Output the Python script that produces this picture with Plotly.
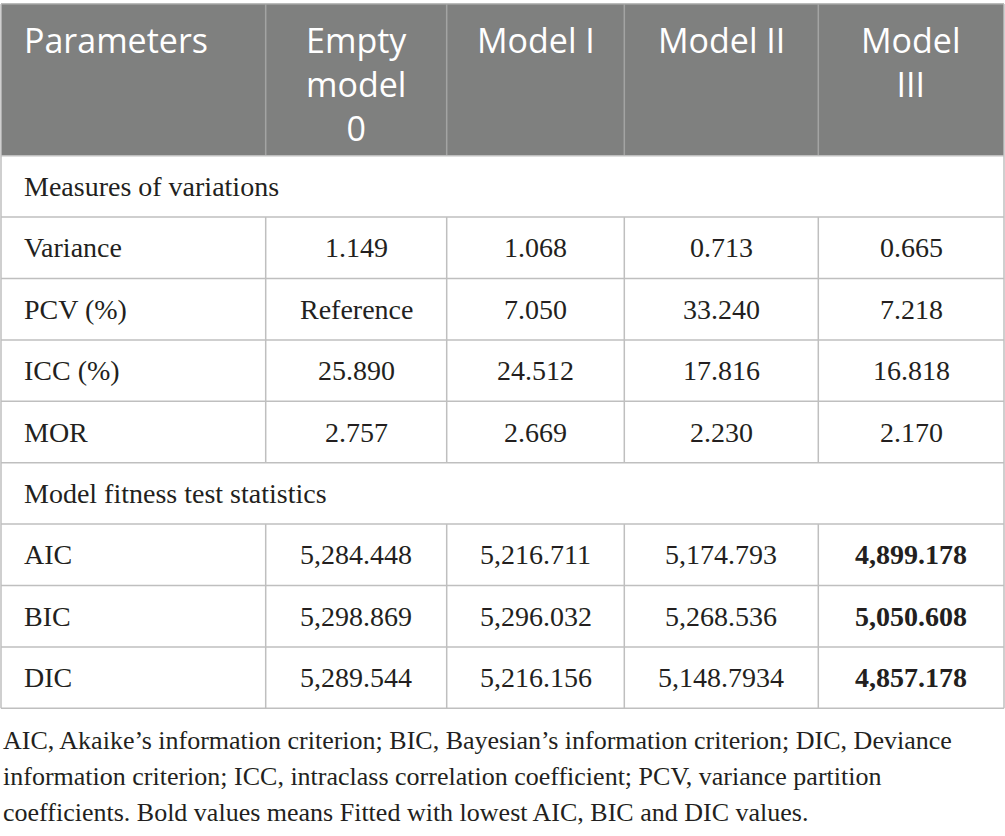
import plotly.graph_objects as go

# ---------------------------------------------------------------------------
# table content
# ---------------------------------------------------------------------------
columns = ["Parameters", "Empty<br>model<br>0", "Model I", "Model II", "Model<br>III"]

section_variation = "Measures of variations"
variation_rows = ["Variance", "PCV (%)", "ICC (%)", "MOR"]
variation_values = [
    ["1.149", "1.068", "0.713", "0.665"],
    ["Reference", "7.050", "33.240", "7.218"],
    ["25.890", "24.512", "17.816", "16.818"],
    ["2.757", "2.669", "2.230", "2.170"],
]

section_fitness = "Model fitness test statistics"
fitness_rows = ["AIC", "BIC", "DIC"]
fitness_values = [
    ["5,284.448", "5,216.711", "5,174.793", "4,899.178"],
    ["5,298.869", "5,296.032", "5,268.536", "5,050.608"],
    ["5,289.544", "5,216.156", "5,148.7934", "4,857.178"],
]
# lowest AIC/BIC/DIC -> printed bold
fitness_bold_col = 3

footnote_lines = [
    "AIC, Akaike’s information criterion; BIC, Bayesian’s information criterion; DIC, Deviance",
    "information criterion; ICC, intraclass correlation coefficient; PCV, variance partition",
    "coefficients. Bold values means Fitted with lowest AIC, BIC and DIC values.",
]

# ---------------------------------------------------------------------------
# geometry / style (data units == page pixels)
# ---------------------------------------------------------------------------
W, H = 1005, 836
COL_EDGES = [1, 265.7, 446.7, 624.3, 818.3, 1004]
HEADER_TOP = 4
HEADER_BOTTOM = 155.7
ROW_H = 61.4
PAD_LEFT = 22
HEAD_TEXT_TOP = 15
FOOT_LINE_Y0 = 740
FOOT_LINE_STEP = 36

HEADER_BG = "#7f807f"
HEADER_RULE = "#a3a4a3"
GRID = "#bfbfbf"
INK = "#231f20"
SANS = "Open Sans"
SERIF = "Liberation Serif"
HEAD_SIZE = 34
BODY_SIZE = 28
FOOT_SIZE = 26

# ordered rows: (is_section, label, values, bold column)
rows = [(True, section_variation, None, None)]
rows += [(False, lab, vals, None) for lab, vals in zip(variation_rows, variation_values)]
rows += [(True, section_fitness, None, None)]
rows += [(False, lab, vals, fitness_bold_col) for lab, vals in zip(fitness_rows, fitness_values)]

row_edges = [HEADER_BOTTOM + ROW_H * i for i in range(len(rows) + 1)]
col_centers = [(a + b) / 2 for a, b in zip(COL_EDGES[:-1], COL_EDGES[1:])]

shapes = []
annotations = []


def hline(y, x0, x1, color=GRID, width=1.5):
    shapes.append(dict(type="line", xref="x", yref="y", x0=x0, x1=x1, y0=y, y1=y,
                       line=dict(color=color, width=width)))


def vline(x, y0, y1, color=GRID, width=1.5):
    shapes.append(dict(type="line", xref="x", yref="y", x0=x, x1=x, y0=y0, y1=y1,
                       line=dict(color=color, width=width)))


def text(x, y, s, anchor="center", valign="middle", family=SERIF, size=BODY_SIZE, color=INK):
    annotations.append(dict(x=x, y=y, xref="x", yref="y", xanchor=anchor, yanchor=valign,
                            text=s, showarrow=False, align=anchor,
                            font=dict(family=family, size=size, color=color)))


# header band
shapes.append(dict(type="rect", xref="x", yref="y", x0=COL_EDGES[0], x1=COL_EDGES[-1],
                   y0=HEADER_TOP, y1=HEADER_BOTTOM, fillcolor=HEADER_BG, line=dict(width=0),
                   layer="below"))
hline(HEADER_TOP, COL_EDGES[0], COL_EDGES[-1], color=HEADER_RULE)
for x in COL_EDGES[1:-1]:
    vline(x, HEADER_TOP, HEADER_BOTTOM, color=HEADER_RULE)

for i, col in enumerate(columns):
    if i == 0:
        text(COL_EDGES[0] + PAD_LEFT - 1, HEAD_TEXT_TOP, col, anchor="left", valign="top",
             family=SANS, size=HEAD_SIZE, color="white")
    else:
        text(col_centers[i], HEAD_TEXT_TOP, col, valign="top",
             family=SANS, size=HEAD_SIZE, color="white")

# body grid
for y in row_edges:
    hline(y, COL_EDGES[0], COL_EDGES[-1])
vline(COL_EDGES[0], HEADER_TOP, row_edges[-1])
vline(COL_EDGES[-1], HEADER_TOP, row_edges[-1])

for r, (is_section, label, vals, bold_col) in enumerate(rows):
    y0, y1 = row_edges[r], row_edges[r + 1]
    yc = (y0 + y1) / 2
    text(COL_EDGES[0] + PAD_LEFT - 1, yc, label, anchor="left")
    if is_section:
        continue
    for x in COL_EDGES[1:-1]:
        vline(x, y0, y1)
    for j, v in enumerate(vals):
        text(col_centers[j + 1], yc, f"<b>{v}</b>" if j == bold_col else v)

# footnote
for k, line in enumerate(footnote_lines):
    text(1, FOOT_LINE_Y0 + k * FOOT_LINE_STEP, line, anchor="left", size=FOOT_SIZE)

fig = go.Figure()
fig.add_trace(go.Scatter(x=[0, W], y=[0, H], mode="markers", marker=dict(opacity=0),
                         hoverinfo="skip", showlegend=False))
fig.update_layout(
    width=W, height=H,
    margin=dict(l=0, r=0, t=0, b=0),
    paper_bgcolor="white", plot_bgcolor="white",
    shapes=shapes, annotations=annotations,
    showlegend=False,
)
fig.update_xaxes(range=[0, W], visible=False, fixedrange=True)
fig.update_yaxes(range=[H, 0], visible=False, fixedrange=True)

# drop the browser's default 8px body margin so page pixels match the axes
fig.write_html("out.html", config={"displayModeBar": False},
               post_script="document.body.style.margin='0';")
